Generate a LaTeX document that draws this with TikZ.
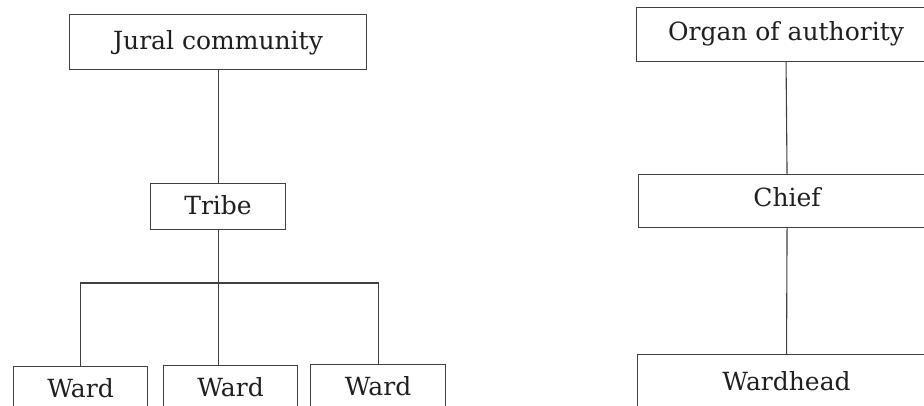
\documentclass[tikz,border=0pt]{standalone}
\usepackage{fontspec}
\setmainfont{DejaVu Serif}
\begin{document}
\begin{tikzpicture}[x=1pt,y=-1pt,
  lbl/.style={draw=black!75, line width=1.1pt, inner sep=0pt, anchor=north west,
    font=\fontsize{25}{28}\selectfont, text=black!88},
  conn/.style={draw=black!75, line width=1.1pt}]
\useasboundingbox (0,0) rectangle (924,406);
\clip (0,0) rectangle (924,406);
% left tree
\node[lbl, minimum width=297pt, minimum height=55pt, text height=15pt, text depth=0pt] (jural) at (69,14) {Jural community};
\node[lbl, minimum width=135pt, minimum height=46pt, text height=16pt, text depth=0pt] (tribe) at (150,183) {Tribe};
\node[lbl, minimum width=134pt, minimum height=46pt, text height=16pt, text depth=0pt] (w1) at (13,366) {Ward};
\node[lbl, minimum width=134pt, minimum height=46pt, text height=16pt, text depth=0pt] (w2) at (163,365) {Ward};
\node[lbl, minimum width=135pt, minimum height=46pt, text height=16pt, text depth=0pt] (w3) at (310,364) {Ward};
\coordinate (bus) at (217,283);
\draw[conn] (jural.south) -- (tribe.north);
\draw[conn] (tribe.south) -- (tribe.south |- w2.north);
\draw[conn] (w1.north) |- (bus) -| (w3.north);
% right chain
\node[lbl, minimum width=299pt, minimum height=54pt, text height=11pt, text depth=0pt] (organ) at (636,7) {Organ of authority};
\node[lbl, minimum width=297pt, minimum height=53pt, text height=11pt, text depth=0pt] (chief) at (638,174) {Chief};
\node[lbl, minimum width=298pt, minimum height=54pt, text height=17pt, text depth=0pt] (head) at (637,354) {Wardhead};
\draw[conn] (organ.south) -- (chief.north);
\draw[conn] (chief.south) -- (head.north);
\end{tikzpicture}
\end{document}
